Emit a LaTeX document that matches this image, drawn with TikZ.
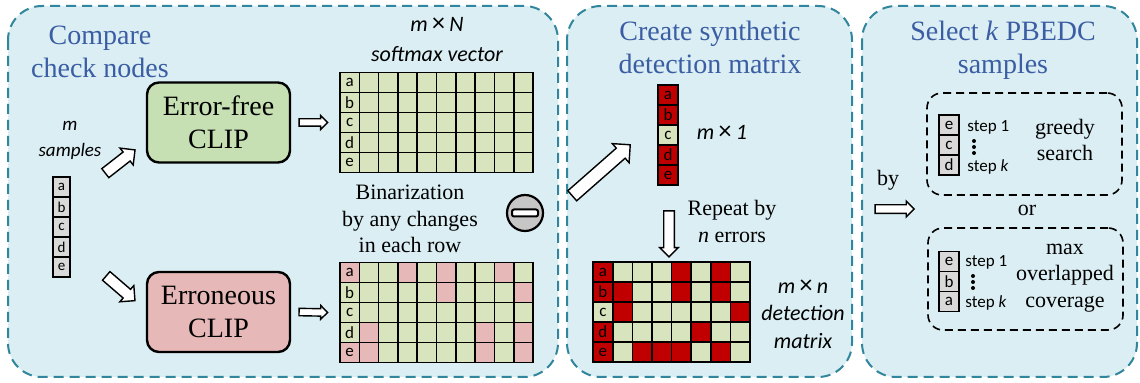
\documentclass[tikz,border=0pt]{standalone}
\usepackage{fontspec}
\setmainfont{Liberation Serif}
\newfontfamily\calibri{Carlito}
\usetikzlibrary{matrix,calc,shapes.arrows}

\definecolor{panelfill}{HTML}{DAEEF3}
\definecolor{paneledge}{HTML}{31859C}
\definecolor{titleblue}{HTML}{3A5DA3}
\definecolor{okgreen}{HTML}{C6E0B4}
\definecolor{badpink}{HTML}{E6B8B7}
\definecolor{cellgreen}{HTML}{D7E4BD}
\definecolor{cellpink}{HTML}{E6B9B8}
\definecolor{cellred}{HTML}{C00000}
\definecolor{cellgray}{HTML}{D9D9D9}

% hollow block arrow: name, tail, tip
\newcommand\fatarrow[4][]{%
  \path let \p1=($(#4)-(#3)$) in
    node[fatarrow,#1,minimum height={veclen(\x1,\y1)},rotate={atan2(\y1,\x1)}] (#2) at ($(#3)!0.5!(#4)$) {};}
% thin times sign between two italic letters
\newcommand\bytimes{{\upshape\fontsize{13}{13}\selectfont\,×\,}}

\begin{document}
\begin{tikzpicture}[x=0.5pt,y=-0.5pt,
        panel/.style={draw=paneledge, fill=panelfill, line width=1pt, dash pattern=on 5pt off 3pt, rounded corners=17pt},
        title/.style={text=titleblue, align=center, font=\fontsize{14}{16.5}\selectfont},
        clipbox/.style={draw, line width=1.2pt, rounded corners=6pt, minimum width=71.5pt, minimum height=40pt, align=center, font=\fontsize{14}{16.5}\selectfont},
        array/.style={matrix of nodes, line width=0.8pt, nodes={draw, fill=cellgreen, anchor=center, minimum width=9.65pt, minimum height=10pt, inner sep=0pt, font=\calibri\fontsize{8.5}{9}\selectfont},
        column sep=-\pgflinewidth, row sep=-\pgflinewidth, nodes in empty cells},
        smallcol/.style={array, line width=0.7pt, nodes={fill=cellgray, minimum width=8.5pt, minimum height=10pt, font=\calibri\fontsize{7.5}{8}\selectfont}},
        pk/.style={fill=cellpink}, rd/.style={fill=cellred},
        textlabel/.style={align=center, font=\fontsize{11}{13.2}\selectfont},
        mathlabel/.style={align=center, font=\calibri\itshape\fontsize{11}{13.75}\selectfont},
        steplab/.style={anchor=west, inner sep=0pt, font=\calibri\fontsize{8.5}{9}\selectfont},
        choice/.style={draw, line width=0.8pt, dash pattern=on 4pt off 2.5pt, rounded corners=7.5pt},
        fatarrow/.style={single arrow, draw, fill=white, line width=0.7pt, inner xsep=0pt, inner ysep=2.5pt, single arrow head extend=2.5pt}]
    \useasboundingbox (0,0) rectangle (1140,383);

    % three stages
    \draw[panel] (8,6) rectangle (558,377);
    \draw[panel] (567,6) rectangle (852,377);
    \draw[panel] (862,6) rectangle (1137,377);

    \node[title] (t1) at (100,52) {Compare\\check nodes};
    \node[title] (t2) at (710,47) {Create synthetic\\detection matrix};
    \node[title] (t3) at (1003,50) {Select \textit{k} PBEDC\\samples};

    % stage 1
    \node[mathlabel, font=\calibri\itshape\fontsize{9.5}{13}\selectfont] (mlab) at (70,140) {m\\samples};
    \matrix[smallcol] (smp) at (61.5,227) {
        a \\ b \\ c \\ d \\ e \\};
    \node[clipbox, fill=okgreen] (ef) at (218.5,122.5) {Error-free\\CLIP};
    \node[clipbox, fill=badpink] (er) at (218.5,312) {Erroneous\\CLIP};

    \node[mathlabel, font=\calibri\itshape\fontsize{11}{15}\selectfont] (softlab) at (437,40) {m\bytimes N\\softmax vector};
    \matrix[array] (soft) at (436.5,122.5) {
        a & & & & & & & & & \\
        b & & & & & & & & & \\
        c & & & & & & & & & \\
        d & & & & & & & & & \\
        e & & & & & & & & & \\};
    \node[textlabel] (binlab) at (410,219) {Binarization\\by any changes\\in each row};
    \matrix[array] (bin) at (436.5,312.5) {
        |[pk]| a & & & |[pk]| & & |[pk]| & & & |[pk]| & \\
        b & & & & & |[pk]| & & & & |[pk]| \\
        c & & & & & & & & & \\
        d & |[pk]| & & & & & & |[pk]| & & |[pk]| \\
        |[pk]| e & |[pk]| & & & & & & |[pk]| & & |[pk]| \\};

    \node[draw, circle, fill=gray!45, line width=1.1pt, minimum size=18pt, inner sep=0pt] (minus) at (525,213) {};
    \node[draw, fill=white, rounded corners=1pt, line width=1pt, minimum width=13pt, minimum height=3.5pt, inner sep=0pt] (bar) at (minus) {};

    \coordinate (a1s) at ($(smp.north east)+(25,6)$);
    \coordinate (a1e) at ($(ef.south west)+(-13,-12)$);
    \coordinate (a2s) at ($(smp.south east)+(26,-11)$);
    \coordinate (a2e) at ($(er.north west)+(-13,28)$);
    \fatarrow{a1}{a1s}{a1e}
    \fatarrow{a2}{a2s}{a2e}
    \fatarrow[inner ysep=1.5pt, single arrow head extend=1.6pt]{a3}{$(ef.east)+(6,0)$}{$(soft.west)+(-6,0)$}
    \fatarrow[inner ysep=1.5pt, single arrow head extend=1.6pt]{a4}{$(er.east)+(6,0)$}{$(bin.west)+(-6,0)$}

    % stage 2
    \matrix[array, nodes={minimum width=10pt}] (vec) at (668,135) {
        |[rd]| a \\ |[rd]| b \\ c \\ |[rd]| d \\ |[rd]| e \\};
    \node[mathlabel] (veclab) at (722,132) {m\bytimes 1};
    \fatarrow[inner ysep=3pt, single arrow head extend=3pt]{a5}{$(vec.west)+(-80,63)$}{$(vec.west)+(-22,12)$}
    \fatarrow[inner ysep=2.3pt, single arrow head extend=2pt]{a6}{$(vec.south)+(1,15)$}{$(vec.south)+(1,61)$}
    \node[textlabel, font=\fontsize{11}{13.5}\selectfont] (replab) at (732,221) {Repeat by\\\textit{n} errors};

    \matrix[array, nodes={minimum width=9.8pt}] (det) at (671.5,312) {
        |[rd]| a & & & & |[rd]| & & |[rd]| & \\
        |[rd]| b & |[rd]| & & & |[rd]| & & |[rd]| & \\
        c & |[rd]| & & & & & & |[rd]| \\
        |[rd]| d & & & & & |[rd]| & & \\
        |[rd]| e & & |[rd]| & |[rd]| & |[rd]| & & |[rd]| & \\};
    \node[mathlabel] (detlab) at (803,314) {m\bytimes n\\detection\\matrix};

    % stage 3
    \node[textlabel] (by) at (888,180) {by};
    \fatarrow[inner ysep=1.8pt, single arrow head extend=1.8pt]{a7}{$(by.south)+(-15,12)$}{$(by.south)+(24,12)$}

    \node[choice, minimum width=97.5pt, minimum height=51pt] (gbox) at (1024.5,144) {};
    \matrix[smallcol, nodes={minimum width=10pt, font=\calibri\fontsize{8.5}{9}\selectfont}] (gcol) at (949,145) {
        e \\ c \\ d \\};
    \node[steplab] (g1) at (967,127) {step 1};
    \node[steplab] (gk) at (967,167) {step \textit{k}};
    \foreach \y in {141,147,153}
        \fill (974,\y) circle (1pt);
    \node[textlabel] (greedy) at (1065,140) {greedy\\search};

    \node[textlabel] (or) at (1027,210) {or};

    \node[choice, minimum width=97.5pt, minimum height=51pt] (cbox) at (1025.5,279) {};
    \matrix[smallcol, nodes={minimum width=10pt, font=\calibri\fontsize{8.5}{9}\selectfont}] (ccol) at (949,281.5) {
        e \\ b \\ a \\};
    \node[steplab] (c1) at (965,262) {step 1};
    \node[steplab] (ck) at (965,303) {step \textit{k}};
    \foreach \y in {276,282,288}
        \fill (973,\y) circle (1pt);
    \node[textlabel] (maxov) at (1065,278) {max\\overlapped\\coverage};
\end{tikzpicture}
\end{document}
